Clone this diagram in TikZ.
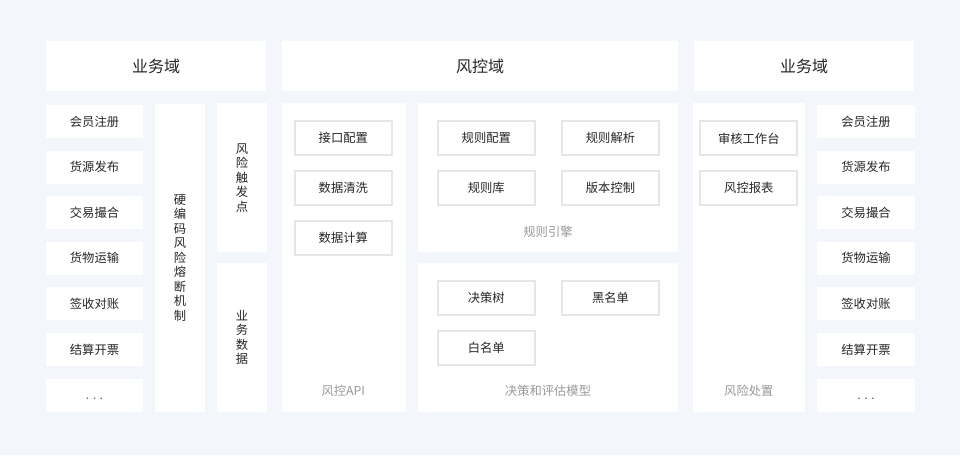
\documentclass[tikz,border=0pt]{standalone}
\usepackage{fontspec}
\setmainfont{Noto Sans CJK SC}
\definecolor{bgblue}{HTML}{F3F6FA}
\definecolor{boxline}{HTML}{E6E6E6}
\definecolor{textdark}{HTML}{262626}
\definecolor{textgray}{HTML}{999999}
\tikzset{
  panel/.style={fill=white, inner sep=0pt, text=textdark, font=\fontsize{12.3}{14.5}\selectfont},
  head/.style={panel, minimum width=220pt, minimum height=50pt, font=\fontsize{16}{18}\selectfont},
  item/.style={panel, minimum width=97pt, minimum height=33pt},
  cell/.style={panel, draw=boxline, line width=2pt, minimum width=97pt, minimum height=34pt},
  caption/.style={text=textgray, inner sep=0pt, font=\fontsize{12.3}{14.5}\selectfont},
  vtext/.style={panel, align=center}
}
\newcommand{\moredots}{\raisebox{-4pt}[0pt][0pt]{\textcolor{black!60}{.\hspace{3.5pt}.\hspace{3.5pt}.}}}
\begin{document}
\begin{tikzpicture}[x=1pt, y=-1pt]

\fill[bgblue] (0,0) rectangle (960,455);
\useasboundingbox (0,0) rectangle (960,455);

% domain headers
\node[head] (headL) at (156,66) {业务域};
\node[head, minimum width=396pt] (headM) at (480,66) {风控域};
\node[head] (headR) at (804,66) {业务域};

% business items, both sides
\foreach \t [count=\i] in {会员注册,货源发布,交易撮合,货物运输,签收对账,结算开票} {
  \node[item] (bizL\i) at (94.5,{121.5+45.6*(\i-1)}) {\t};
  \node[item, minimum width=98pt] (bizR\i) at (866,{121.5+45.6*(\i-1)}) {\t};
}
\node[item] (bizL7) at (94.5,395) {\moredots};
\node[item, minimum width=98pt] (bizR7) at (866,395) {\moredots};

% vertical columns
\node[vtext, minimum width=50pt, minimum height=307.5pt] (fuse) at (180,257.75)
  {硬\\编\\码\\风\\险\\熔\\断\\机\\制};
\node[vtext, minimum width=49.5pt, minimum height=148.7pt] (trigger) at (242,177.7)
  {风\\险\\触\\发\\点};
\node[vtext, minimum width=49.5pt, minimum height=149pt] (bizdata) at (242,337.2)
  {业\\务\\数\\据};

% risk control panels
\node[panel, minimum width=123.7pt, minimum height=308.4pt] (api) at (343.85,257.5) {};
\node[panel, minimum width=260pt, minimum height=148.4pt] (rules) at (548,177.5) {};
\node[panel, minimum width=260pt, minimum height=148.4pt] (model) at (548,337.5) {};
\node[panel, minimum width=111.4pt, minimum height=308.4pt] (handle) at (749,257.5) {};

% API cells
\node[cell] (apiconf) at (343.3,138.3) {接口配置};
\node[cell] (apiclean) at (343.3,188) {数据清洗};
\node[cell] (apicalc) at (343.3,237.7) {数据计算};
\node[caption] (apilbl) at (343.3,390.7) {风控API};

% rule engine cells
\node[cell] (ruleconf) at (486.3,138.3) {规则配置};
\node[cell] (ruleparse) at (610.5,138.3) {规则解析};
\node[cell] (rulelib) at (486.3,188) {规则库};
\node[cell] (rulever) at (610.5,188) {版本控制};
\node[caption] (rulelbl) at (548,231.5) {规则引擎};

% decision model cells
\node[cell] (dtree) at (486.3,297.5) {决策树};
\node[cell] (blacklist) at (610.5,297.5) {黑名单};
\node[cell] (whitelist) at (486.3,347.5) {白名单};
\node[caption] (modellbl) at (548,390.7) {决策和评估模型};

% risk handling cells
\node[cell] (review) at (748.8,138.3) {审核工作台};
\node[cell] (report) at (748.8,187.7) {风控报表};
\node[caption] (handlelbl) at (748.8,390.7) {风险处置};

\end{tikzpicture}
\end{document}
